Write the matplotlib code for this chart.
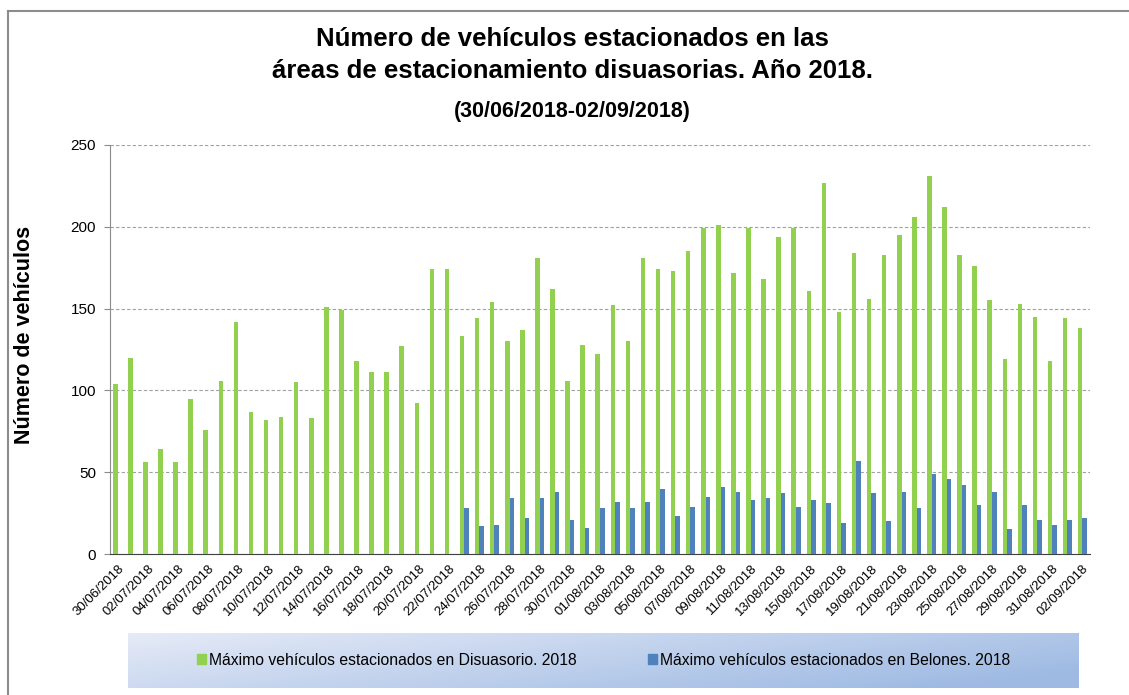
import numpy as np
import matplotlib
matplotlib.use("Agg")
import matplotlib.pyplot as plt
from matplotlib.patches import Patch
from matplotlib.lines import Line2D
from datetime import date, timedelta

# fechas 30/06/2018 - 02/09/2018
start = date(2018, 6, 30)
fechas = [(start + timedelta(days=i)).strftime("%d/%m/%Y") for i in range(65)]

disuasorio = [104, 120, 56, 64, 56, 95, 76, 106, 142, 87, 82, 84, 105, 83, 151, 149,
              118, 111, 111, 127, 92, 174, 174, 133, 144, 154, 130, 137, 181, 162, 106, 128,
              122, 152, 130, 181, 174, 173, 185, 199, 201, 172, 199, 168, 194, 199, 161, 227,
              148, 184, 156, 183, 195, 206, 231, 212, 183, 176, 155, 119, 153, 145, 118, 144,
              138]

# Belones sin datos hasta el 23/07/2018
belones = [np.nan] * 23 + [28, 17, 18, 34, 22, 34, 38, 21, 16, 28, 32, 28, 32, 40, 23, 29,
                           35, 41, 38, 33, 34, 37, 29, 33, 31, 19, 57, 37, 20, 38, 28, 49,
                           46, 42, 30, 38, 15, 30, 21, 18, 21, 22]

lab_dis = "Máximo vehículos estacionados en Disuasorio. 2018"
lab_bel = "Máximo vehículos estacionados en Belones. 2018"

verde = "#92D050"
azul = "#4F81BD"

plt.rcParams["font.family"] = ["Liberation Sans", "DejaVu Sans"]

fig = plt.figure(figsize=(11.29, 6.95), dpi=100)
W, H = 1129, 695

# marco exterior (solo arriba e izquierda visibles)
fig.add_artist(Line2D([8 / W, 8 / W], [0, 1 - 11 / H], color="#8c8c8c", lw=1.5))
fig.add_artist(Line2D([8 / W, 1], [1 - 11 / H, 1 - 11 / H], color="#8c8c8c", lw=1.5))

ax = fig.add_axes([110 / W, 1 - 554 / H, (1090 - 110) / W, (554 - 145) / H])

x = np.arange(len(fechas))
w = 0.3
ax.bar(x - w / 2, disuasorio, width=w, color=verde, zorder=3)
ax.bar(x + w / 2, belones, width=w, color=azul, zorder=3)

ax.set_xlim(-0.5, len(fechas) - 0.5)
ax.set_ylim(0, 250)
ax.set_yticks(range(0, 251, 50))
ax.yaxis.grid(True, linestyle=(0, (3, 2)), color="#a0a0a0", linewidth=0.8, zorder=0)
ax.tick_params(axis="y", labelsize=11, length=4, color="#8c8c8c", pad=6)

ax.set_xticks(x[::2])
ax.set_xticklabels(fechas[::2], rotation=45, ha="right", rotation_mode="anchor", fontsize=9.5)
ax.tick_params(axis="x", length=0, pad=6)

for s in ["top", "right"]:
    ax.spines[s].set_visible(False)
ax.spines["left"].set_color("#8c8c8c")
ax.spines["bottom"].set_color("#404040")

ax.set_ylabel("Número de vehículos", fontsize=15.5, fontweight="bold")
ax.yaxis.set_label_coords(-0.077, 0.535)

fig.text(0.507, 1 - 39 / H, "Número de vehículos estacionados en las", ha="center", va="center",
         fontsize=18.5, fontweight="bold")
fig.text(0.507, 1 - 71 / H, "áreas de estacionamiento disuasorias. Año 2018.", ha="center", va="center",
         fontsize=18.5, fontweight="bold")
fig.text(0.507, 1 - 111 / H, "(30/06/2018-02/09/2018)", ha="center", va="center",
         fontsize=15.5, fontweight="bold")

# leyenda con fondo degradado
lax = fig.add_axes([128 / W, 1 - 688 / H, (1079 - 128) / W, (688 - 633) / H])
gx, gy = np.meshgrid(np.linspace(0, 1, 200), np.linspace(0, 1, 50))
t = np.clip(0.75 * gx + 0.35 * (1 - gy), 0, 1)
c0 = np.array([0.90, 0.92, 0.97])
c1 = np.array([0.62, 0.73, 0.89])
img = c0 + (c1 - c0) * t[..., None]
lax.imshow(img, aspect="auto", extent=[0, 1, 0, 1], origin="lower")
lax.set_axis_off()
handles = [Patch(color=verde, label=lab_dis), Patch(color=azul, label=lab_bel)]
lax.legend(handles=handles, loc="center", ncol=2, frameon=False, fontsize=11.3,
           handlelength=0.6, handleheight=0.6, handletextpad=0.2, columnspacing=4.5)

fig.savefig("out.png", dpi=100)
plt.close(fig)
